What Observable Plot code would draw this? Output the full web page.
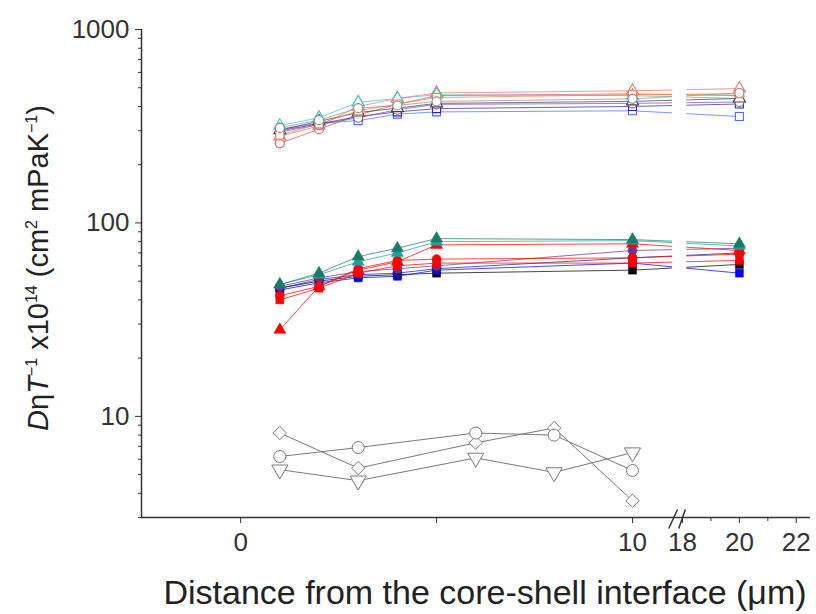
<!DOCTYPE html>
<html><head><meta charset="utf-8">
<script src="https://cdn.jsdelivr.net/npm/d3@7"></script>
<script src="https://cdn.jsdelivr.net/npm/@observablehq/plot@0.6"></script>
<style>
body{margin:0;background:#fff;}
#chart svg{font-family:"Liberation Sans",Arial,sans-serif;}
</style>
</head><body><div id="chart"></div>
<script>
// x positions (µm) of the measured points
const distances = [1, 2, 3, 4, 5, 10, 20];
const greyDistances = [1, 3, 6, 8, 10];

// x axis ticks and labels
const xMajorTicks = [0, 5, 10, 18, 20, 22];
const xMinorTicks = [19, 21];
const xLabelled = [0, 10, 18, 20, 22];
const yMajorTicks = [10, 100, 1000];

// upper cluster (open symbols)
const openRedCircle   = [258, 305, 362, 410, 455, 465, 455];
const openRedTriangle = [280, 318, 400, 440, 470, 482, 495];
const openCyanTriangle= [318, 350, 420, 440, 460, 455, 440];
const openBlueSquare  = [305, 328, 338, 365, 375, 380, 355];
const openNavySquare  = [300, 325, 355, 375, 390, 400, 412];
const openPurpleCircle= [295, 322, 350, 385, 410, 415, 422];
const openDarkTriangle= [302, 335, 372, 392, 415, 425, 440];
const openOrangeSquare= [285, 325, 380, 412, 445, 460, 465];
const openGreyCircle  = [310, 340, 392, 405, 425, 438, 470];

// middle cluster (filled symbols)
const fillBlackSquare  = [46, 50, 53, 54, 55, 57, 61];
const fillBlueSquare   = [45, 49, 52, 53, 57, 62, 55];
const fillNavyCircle   = [46, 51, 54, 55, 58, 66, 70];
const fillRedSquare    = [40, 46, 55, 60, 62, 62, 64];
const fillRedCircle    = [42, 47, 58, 64, 65, 66, 69];
const fillRedTriangle  = [28, 47, 57, 63, 77, 78, 72];
const fillTealTriangle = [48, 55, 67, 74, 83, 82, 78];
const fillPurpleCircle = [47, 52, 56, 58, 60, 72, 74];
const fillCyanTriangle = [48, 54, 63, 70, 80, 81, 76];

// lower cluster (grey open symbols)
const greyDiamond  = [8.2, 5.4, 7.3, 8.7, 3.66];
const greyCircle   = [6.2, 6.9, 8.2, 8.0, 5.25];
const greyTriDown  = [5.3, 4.65, 6.1, 5.13, 6.5];

// series list: values + style
const series = [
  {v: openRedCircle,    color: "#e8504f", sym: "circle",   open: true},
  {v: openRedTriangle,  color: "#f07070", sym: "triangle", open: true},
  {v: openCyanTriangle, color: "#40c0c8", sym: "triangle", open: true},
  {v: openBlueSquare,   color: "#4a6cff", sym: "square",   open: true},
  {v: openNavySquare,   color: "#2a2a90", sym: "square",   open: true},
  {v: openPurpleCircle, color: "#8a4aa8", sym: "circle",   open: true},
  {v: openDarkTriangle, color: "#404050", sym: "triangle", open: true},
  {v: openOrangeSquare, color: "#f08050", sym: "square",   open: true},
  {v: openGreyCircle,   color: "#909090", sym: "circle",   open: true},
  {v: fillBlackSquare,  color: "#000000", sym: "square",   open: false},
  {v: fillBlueSquare,   color: "#0000ff", sym: "square",   open: false},
  {v: fillNavyCircle,   color: "#1a1a8c", sym: "circle",   open: false},
  {v: fillPurpleCircle, color: "#7a2a9a", sym: "circle",   open: false},
  {v: fillRedSquare,    color: "#ff0000", sym: "square",   open: false},
  {v: fillRedCircle,    color: "#ff0000", sym: "circle",   open: false},
  {v: fillRedTriangle,  color: "#ff0000", sym: "triangle", open: false},
  {v: fillCyanTriangle, color: "#20a0a0", sym: "triangle", open: false},
  {v: fillTealTriangle, color: "#1b7a68", sym: "triangle", open: false}
];
const greySeries = [
  {v: greyDiamond, sym: "diamond2", rot: 0},
  {v: greyCircle,  sym: "circle",   rot: 0},
  {v: greyTriDown, sym: "triangle", rot: 180}
];

const marks = [];
for (const s of series) {
  const rows = distances.map((d, i) => ({x: d, y: s.v[i]}));
  marks.push(Plot.line(rows, {x: "x", y: "y", stroke: s.color, strokeWidth: 0.9, strokeOpacity: 0.8}));
}
for (const s of greySeries) {
  const rows = greyDistances.map((d, i) => ({x: d, y: s.v[i]}));
  marks.push(Plot.line(rows, {x: "x", y: "y", stroke: "#7a7a7a", strokeWidth: 1}));
}
// axis break gap in the lines
marks.push(Plot.rect([{x1: 16.4, x2: 18.15, y1: 20, y2: 900}], {x1: "x1", x2: "x2", y1: "y1", y2: "y2", fill: "white"}));
for (const s of series) {
  const rows = distances.map((d, i) => ({x: d, y: s.v[i]}));
  marks.push(Plot.dot(rows, {x: "x", y: "y", symbol: s.sym, r: 4.5,
    fill: s.open ? "white" : s.color, stroke: s.color, strokeWidth: s.open ? 1.1 : 0.5}));
}
for (const s of greySeries) {
  const rows = greyDistances.map((d, i) => ({x: d, y: s.v[i]}));
  marks.push(Plot.dot(rows, {x: "x", y: "y", symbol: s.sym, rotate: s.rot, r: 6, fill: "white", stroke: "#7a7a7a", strokeWidth: 1}));
}
// axes
marks.push(Plot.ruleY([3], {stroke: "#333", strokeWidth: 1.5}));
marks.push(Plot.ruleX([-2.53], {stroke: "#333", strokeWidth: 1.5}));
marks.push(Plot.axisX(xMajorTicks, {tickSize: 6, tickPadding: 9, stroke: "#333", fontSize: 26, fill: "#333",
  tickFormat: d => xLabelled.includes(d) ? String(d) : "", label: null}));
marks.push(Plot.axisX(xMinorTicks, {tickSize: 4, tickFormat: () => "", stroke: "#333", label: null}));
const yMinor = [];
for (const dec of [1, 10, 100]) for (let k = 2; k <= 9; k++) if (k * dec >= 3) yMinor.push(k * dec);
marks.push(Plot.axisY(yMinor, {tickSize: 3, tickFormat: () => "", stroke: "#333", label: null}));
marks.push(Plot.axisY(yMajorTicks, {tickSize: 6, tickPadding: 6, stroke: "#333", fontSize: 26, fill: "#333",
  tickFormat: d => String(d), label: null}));
// break marks
marks.push(Plot.link([{x1: 15.8, y1: 2.63, x2: 17.2, y2: 3.3}, {x1: 17.4, y1: 2.63, x2: 18.1, y2: 3.3}],
  {x1: "x1", y1: "y1", x2: "x2", y2: "y2", stroke: "#333", strokeWidth: 1.5}));

const chart = Plot.plot({
  width: 816, height: 614,
  marginLeft: 141, marginRight: 6, marginTop: 29, marginBottom: 97,
  x: {type: "linear", domain: [-2.53, 10, 18, 22.5], range: [141, 632, 682, 810]},
  y: {type: "log", domain: [3, 1000], range: [517, 29]},
  style: {fontFamily: "Liberation Sans, Arial, sans-serif", background: "white"},
  marks
});
document.getElementById("chart").appendChild(chart);

const svg = d3.select(chart);
// x axis title
svg.append("text").attr("x", 485).attr("y", 604).attr("text-anchor", "middle")
  .attr("font-size", 34).attr("fill", "#222")
  .text("Distance from the core-shell interface (\u03bcm)");
// y axis title
const yt = svg.append("text").attr("transform", "translate(48,268) rotate(-90)")
  .attr("text-anchor", "middle").attr("font-size", 29).attr("fill", "#222");
yt.append("tspan").attr("font-style", "italic").text("D");
yt.append("tspan").text("\u03b7");
yt.append("tspan").attr("font-style", "italic").text("T");
yt.append("tspan").attr("font-size", 16).attr("dy", -11).text("\u22121");
yt.append("tspan").attr("dy", 11).text(" x10");
yt.append("tspan").attr("font-size", 16).attr("dy", -11).text("14");
yt.append("tspan").attr("dy", 11).text(" (cm");
yt.append("tspan").attr("font-size", 16).attr("dy", -11).text("2");
yt.append("tspan").attr("dy", 11).text(" mPaK");
yt.append("tspan").attr("font-size", 16).attr("dy", -11).text("\u22121");
yt.append("tspan").attr("dy", 11).text(")");
</script>
</body></html>
